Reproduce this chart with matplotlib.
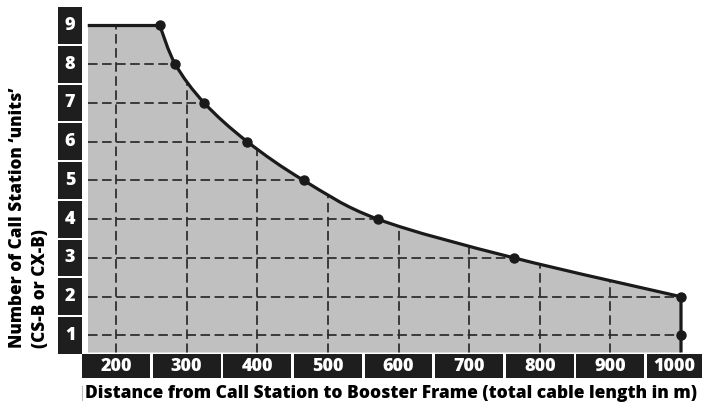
import numpy as np
import matplotlib
matplotlib.use('Agg')
import matplotlib.pyplot as plt
from matplotlib.path import Path
from matplotlib.patches import PathPatch, Rectangle

plt.rcParams['font.family'] = ['Open Sans', 'DejaVu Sans']

# data: cable length (m) for each number of call station units
units = [9, 8, 7, 6, 5, 4, 3, 2, 1]
distance = [262, 284, 325, 386, 466, 571, 764, 1000, 1000]
x_ticks = [200, 300, 400, 500, 600, 700, 800, 900, 1000]
y_ticks = [1, 2, 3, 4, 5, 6, 7, 8, 9]
x_start = 160
y_bottom = 0.56

box_color = '#1e1e1e'
fill_color = '#c0c0c0'
line_color = '#1a1a1a'
heavy = 800


def curve_path(xs, ys):
    """
    Build a smooth (Catmull-Rom as Bezier) path through the given points.
    :param xs: x values
    :param ys: y values
    :return: list of vertices and list of codes (without the starting MOVETO)
    """
    pts = np.column_stack([xs, ys]).astype(float)
    n = len(pts)
    verts, codes = [], []
    for i in range(n - 1):
        p0 = pts[max(i - 1, 0)]
        p1 = pts[i]
        p2 = pts[i + 1]
        p3 = pts[min(i + 2, n - 1)]
        c1 = p1 + (p2 - p0) / 6.0
        c2 = p2 - (p3 - p1) / 6.0
        verts += [c1, c2, p2]
        codes += [Path.CURVE4] * 3
    return verts, codes


fig = plt.figure(figsize=(7.07, 4.05), dpi=100)
ax = fig.add_axes([87.75 / 707, (405 - 352.5) / 405, (681 - 87.75) / 707, (352.5 - 25.5) / 405])
ax.set_xlim(x_start, 1000)
ax.set_ylim(y_bottom, 9)
ax.axis('off')

# smooth part of the curve (stop before the vertical drop at 1000)
cx = distance[:8]
cy = units[:8]
c_verts, c_codes = curve_path(cx, cy)

# filled area under the curve
verts = [(x_start, y_bottom), (x_start, 9), (cx[0], cy[0])] + c_verts + [(1000, y_bottom), (x_start, y_bottom)]
codes = [Path.MOVETO, Path.LINETO, Path.LINETO] + c_codes + [Path.LINETO, Path.CLOSEPOLY]
area = PathPatch(Path(verts, codes), facecolor=fill_color, edgecolor='none', zorder=1)
ax.add_patch(area)

# dashed grid, only inside the filled area
for xv in x_ticks[:-1]:
    gl, = ax.plot([xv, xv], [y_bottom, 9], color='#2a2a2a', lw=1.25,
                  linestyle=(0, (5.5, 2.6)), zorder=2)
    gl.set_clip_path(area)
for yv in y_ticks[:-1]:
    gl, = ax.plot([x_start, 1000], [yv, yv], color='#2a2a2a', lw=1.25,
                  linestyle=(0, (5.5, 2.6)), zorder=2)
    gl.set_clip_path(area)

# outline curve
verts = [(x_start, 9), (cx[0], cy[0])] + c_verts + [(1000, y_bottom)]
codes = [Path.MOVETO, Path.LINETO] + c_codes + [Path.LINETO]
outline = PathPatch(Path(verts, codes), facecolor='none', edgecolor=line_color,
                    lw=2.3, zorder=3, clip_on=False, capstyle='butt', joinstyle='round')
ax.add_patch(outline)
ax.plot(distance, units, linestyle='none', marker='o', ms=6.5, color=line_color,
        zorder=4, clip_on=False)

# tick labels in black boxes
for xv in x_ticks:
    left = xv - 48
    right = min(xv + 48, 1029.5)
    ax.add_patch(Rectangle((left, -0.09), right - left, 0.60, facecolor=box_color,
                           edgecolor='none', clip_on=False))
    ax.text((left + right) / 2, 0.21, str(xv), color='white', fontsize=13,
            fontweight=heavy, ha='center', va='center', clip_on=False)
for yv in y_ticks:
    ax.add_patch(Rectangle((118, yv - 0.473), 34, 0.946, facecolor=box_color,
                           edgecolor='none', clip_on=False))
    ax.text(135, yv, str(yv), color='white', fontsize=13, fontweight=heavy,
            ha='center', va='center', clip_on=False)

# axis titles
fig.text(17.5 / 707, (405 - 348) / 405, 'Number of Call Station \u2018units\u2019',
         rotation=90, ha='center', va='bottom', fontsize=12.3, fontweight=heavy)
fig.text(40 / 707, (405 - 348) / 405, '(CS-B or CX-B)',
         rotation=90, ha='center', va='bottom', fontsize=12.3, fontweight=heavy)
fig.text(85 / 707, (405 - 393) / 405,
         'Distance from Call Station to Booster Frame (total cable length in m)',
         ha='left', va='center', fontsize=12.5, fontweight=heavy)
fig.add_artist(plt.Line2D([82 / 707, 82 / 707], [(405 - 400) / 405, (405 - 386) / 405],
                          color='#bbbbbb', lw=0.8))

fig.savefig('out.png', dpi=100)
